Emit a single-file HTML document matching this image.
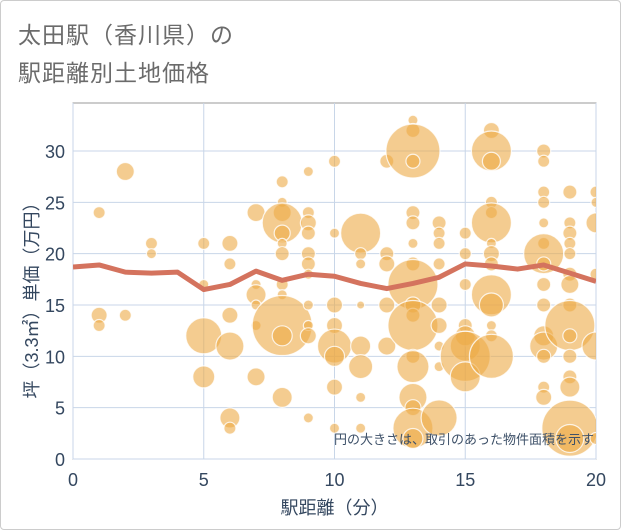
<!DOCTYPE html>
<html><head><meta charset="utf-8"><style>
html,body{margin:0;padding:0;background:#fff;}
#wrap{position:relative;width:619px;height:528px;border:1px solid #ccc;border-radius:4px;overflow:hidden;font-family:"Liberation Sans","Noto Sans CJK JP",sans-serif;}
.title{position:absolute;left:17px;font-size:23px;color:#6b6b6b;letter-spacing:1px;}
</style></head><body>
<div id="wrap">
<div class="title" style="top:15px">太田駅（香川県）の</div>
<div class="title" style="top:53px">駅距離別土地価格</div>
<svg id="chart" width="621" height="530" style="position:absolute;left:-1px;top:-1px"></svg>
</div>
<script>
const xTicks=[0,5,10,15,20];
const yTicks=[0,5,10,15,20,25,30];
const bx=[1,1,1,2,2,3,3,5,5,5,5,6,6,6,6,6,6,7,7,7,7,7,7,8,8,8,8,8,8,8,8,8,8,8,8,9,9,9,9,9,9,9,9,9,9,9,10,10,10,10,10,10,10,10,11,11,11,11,11,11,11,11,12,12,12,12,12,13,13,13,13,13,13,13,13,13,13,13,13,13,13,13,13,13,13,14,14,14,14,14,14,14,14,14,15,15,15,15,15,15,15,15,16,16,16,16,16,16,16,16,16,16,16,16,16,16,18,18,18,18,18,18,18,18,18,18,18,18,18,18,18,19,19,19,19,19,19,19,19,19,19,19,19,19,19,19,20,20,20,20,20,20];
const by=[24,14,13,28,14,21,20,21,17,12,8,21,19,14,11,4,3,24,17,16,15,13,8,27,25,24,23,22,21,20,17,16,13,12,6,28,24,23,22,20,19,18,15,13,12,4,29,22,15,13,11,10,7,3,22,20,19,15,11,9,6,3,29,20,19,15,11,33,32,30,29,24,23,21,19,17,15,14,13,10,9,6,5,3,2,23,22,21,19,15,13,11,9,4,22,20,17,13,12,11,10,8,32,30,29,25,24,23,21,20,19,16,15,13,12,10,30,29,26,25,23,21,20,19,17,15,12,11,10,7,6,26,23,22,21,20,18,17,15,13,12,10,8,7,3,2,26,25,23,18,11,2];
const bs=[6,8,6,9,6,6,5,6,5,18,11,8,6,8,14,10,6,9,5,10,5,5,9,6,5,9,20,8,5,7,6,5,30,10,10,5,6,8,7,7,7,5,5,5,8,5,6,5,8,8,17,10,8,5,20,6,5,4,10,12,5,5,7,7,8,8,9,5,7,27,7,7,7,5,7,25,8,7,25,7,16,14,8,20,10,7,6,6,6,8,8,5,5,18,6,6,6,7,10,15,25,15,8,20,9,6,6,20,5,8,7,20,12,5,6,22,7,6,6,6,5,6,20,7,7,7,10,14,7,6,8,7,6,7,6,6,7,9,7,25,7,7,7,10,28,14,6,5,10,6,14,6];
const lineX=[0,1,2,3,4,5,6,7,8,9,10,11,12,13,14,15,16,17,18,19,20];
const lineY=[18.7,18.9,18.2,18.1,18.2,16.5,17,18.3,17.4,18,17.8,17.1,16.6,17.1,17.7,19,18.8,18.5,18.9,18.1,17.3];
const L=73,R=596,T=103,B=459;
const sx=v=>L+(R-L)*v/20;
const sy=v=>B-(B-151)*v/30;
const NS="http://www.w3.org/2000/svg";
const svg=document.getElementById('chart');
function mk(t,a){const e=document.createElementNS(NS,t);for(const k in a)e.setAttribute(k,a[k]);svg.appendChild(e);return e;}
let e=mk('rect',{x:L,y:T,width:R-L,height:B-T,fill:'#fff',stroke:'#999','stroke-width':1});


yTicks.forEach(v=>{
 let g=mk('line',{x1:L,x2:R,y1:sy(v),y2:sy(v),stroke:'#c8d6e8','stroke-width':1});
 
 
 let t=mk('text',{x:L-8,y:sy(v)+7,'text-anchor':'end','font-size':18,fill:'#34475f'});t.textContent=v;
 
 
});
xTicks.forEach(v=>{
 let g=mk('line',{x1:sx(v),x2:sx(v),y1:T,y2:B,stroke:'#c8d6e8','stroke-width':1});
 
 
 let t=mk('text',{x:sx(v),y:B+27,'text-anchor':'middle','font-size':18,fill:'#34475f'});t.textContent=v;
 
 
});
const clip=mk('clipPath',{id:'pc'});
const cr=document.createElementNS(NS,'rect');cr.setAttribute('x',L);cr.setAttribute('y',T);cr.setAttribute('width',R-L);cr.setAttribute('height',B-T);clip.appendChild(cr);
const g=mk('g',{'clip-path':'url(#pc)'});


for(let i=0;i<bx.length;i++){
 const c=document.createElementNS(NS,'circle');
 c.setAttribute('cx',sx(bx[i]));c.setAttribute('cy',sy(by[i]));c.setAttribute('r',bs[i]);
 c.setAttribute('fill','rgba(236,170,70,0.6)');c.setAttribute('stroke','rgba(255,255,255,0.8)');c.setAttribute('stroke-width',1.2);
 
 
 g.appendChild(c);
}
let p=mk('polyline',{points:lineX.map((x,i)=>sx(x)+','+sy(lineY[i])).join(' '),fill:'none',stroke:'#d4735e','stroke-width':5,'stroke-linejoin':'round','clip-path':'url(#pc)'});


let n=mk('text',{x:R-2,y:444,'text-anchor':'end','font-size':13,fill:'#3d5068'});n.textContent='円の大きさは、取引のあった物件面積を示す';


let xt=mk('text',{x:(L+R)/2,y:514,'text-anchor':'middle','font-size':18,fill:'#34475f'});xt.textContent='駅距離（分）';


let yt=mk('text',{x:0,y:0,'text-anchor':'middle','font-size':18,fill:'#34475f',transform:`translate(38,${(T+B)/2+15}) rotate(-90)`});yt.textContent='坪（3.3㎡）単価（万円）';


</script>
</body></html>
